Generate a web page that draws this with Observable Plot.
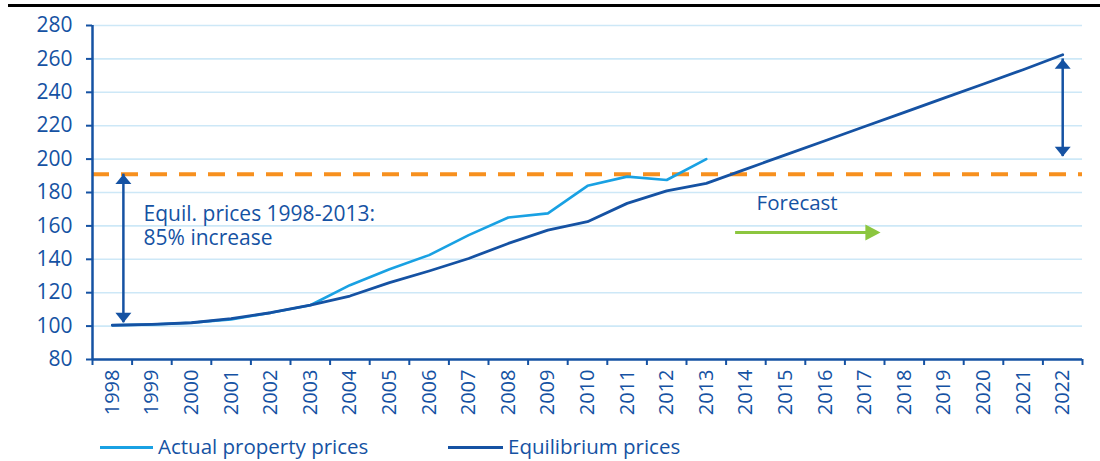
<!DOCTYPE html>
<html><head><meta charset="utf-8">
<script src="https://cdn.jsdelivr.net/npm/d3@7"></script>
<script src="https://cdn.jsdelivr.net/npm/@observablehq/plot@0.6"></script>
<style>
body{margin:0;background:#fff;font-family:"Open Sans",sans-serif;width:1100px;height:461px;overflow:hidden;}
#topbar{height:4px;margin-left:8px;border-bottom:3px solid #000;}
#chart svg{display:block;}
#legend{position:relative;height:36px;color:#1552a3;font-size:20.5px;}
#legend .sw{position:absolute;top:21px;height:3px;}
#legend .lb{position:absolute;top:6px;line-height:30px;white-space:nowrap;}
</style></head><body>
<div id="topbar"></div>
<div id="chart"></div>
<div id="legend"></div>
<script>
// ---- data ----
const years = [1998,1999,2000,2001,2002,2003,2004,2005,2006,2007,2008,2009,2010,2011,2012,2013,2014,2015,2016,2017,2018,2019,2020,2021,2022];
const actualPrices = [100.5,101,102,104,108,112.5,124.5,134,142.5,154.5,165,167.5,184,189.5,187.5,200];
const equilibriumPrices = [100.5,101,102,104.5,108,112.5,118,126,133,140.5,149.5,157.5,162.5,173.5,181,185.5,194,202.5,211,219.5,228,236.5,245,253.5,262.5];
const yTicks = [80,100,120,140,160,180,200,220,240,260,280];
const gridTicks = [100,120,140,160,180,200,220,240,260,280];
const referenceLevel = [191];
const verticalArrows = [{x:1998.28, low:102, high:191},{x:2022, low:201.5, high:260}];
const forecastArrow = [{y:156, from:2013.74, to:2017.4}];
const notes = [
  {x:1998.79, y:160.3, text:"Equil. prices 1998-2013:\n85% increase", size:21},
  {x:2014.27, y:173.4, text:"Forecast", size:20.5}
];
const seriesNames = ["Actual property prices","Equilibrium prices"];

// ---- colours ----
const blue = "#1552a3", light = "#19a1e3", orange = "#f7901e", green = "#8cc63f", grid = "#cde8f7";

const actualTable = actualPrices.map((v,i)=>({year:years[i], value:v}));
const equilTable = equilibriumPrices.map((v,i)=>({year:years[i], value:v}));
const boundaries = years.map(y=>y-0.5).concat([years[years.length-1]+0.5]);

function head(dir, ratio){
  return {draw(ctx, size){
    const w = Math.sqrt(size), h = w*ratio;
    ctx.moveTo(0,0);
    if(dir==="up"){ctx.lineTo(w/2,h);ctx.lineTo(-w/2,h);}
    else if(dir==="down"){ctx.lineTo(w/2,-h);ctx.lineTo(-w/2,-h);}
    else {ctx.lineTo(-h,w/2);ctx.lineTo(-h,-w/2);}
    ctx.closePath();
  }};
}

const chart = Plot.plot({
  width:1100, height:418,
  marginLeft:92, marginRight:18, marginTop:18, marginBottom:66,
  x:{domain:[boundaries[0], boundaries[boundaries.length-1]]},
  y:{domain:[80,280]},
  style:{fontFamily:"Open Sans", color:blue, background:"#fff", overflow:"visible"},
  marks:[
    Plot.gridY(gridTicks,{stroke:grid, strokeOpacity:1, strokeWidth:1.6}),
    Plot.ruleY(referenceLevel,{stroke:orange, strokeWidth:4, strokeDasharray:"17,12"}),
    Plot.line(actualTable,{x:"year", y:"value", stroke:light, strokeWidth:2.6}),
    Plot.line(equilTable,{x:"year", y:"value", stroke:blue, strokeWidth:2.8}),
    Plot.ruleX(verticalArrows,{x:"x", y1:"low", y2:"high", stroke:blue, strokeWidth:2.5}),
    Plot.dot(verticalArrows,{x:"x", y:"high", symbol:head("up",0.62), r:9, fill:blue, stroke:null}),
    Plot.dot(verticalArrows,{x:"x", y:"low", symbol:head("down",0.62), r:9, fill:blue, stroke:null}),
    Plot.ruleY(forecastArrow,{y:"y", x1:"from", x2:"to", stroke:green, strokeWidth:3, insetRight:6}),
    Plot.dot(forecastArrow,{x:"to", y:"y", symbol:head("right",0.95), r:9, fill:green, stroke:null}),
    Plot.text(notes.slice(0,1),{x:"x", y:"y", text:"text", textAnchor:"start", lineAnchor:"middle", fontSize:notes[0].size, lineHeight:1.16, fill:blue}),
    Plot.text(notes.slice(1),{x:"x", y:"y", text:"text", textAnchor:"start", lineAnchor:"middle", fontSize:notes[1].size, fill:blue}),
    Plot.ruleX([boundaries[0]],{stroke:blue, strokeWidth:2.5}),
    Plot.ruleY([80],{stroke:blue, strokeWidth:2.5}),
    Plot.axisY(yTicks,{tickSize:6, tickPadding:14, fontSize:21, stroke:blue, fill:blue, strokeWidth:2, label:null}),
    Plot.axisX(boundaries,{tickSize:6, tickFormat:()=>"", stroke:blue, strokeWidth:2, label:null}),
    Plot.axisX(years,{tickSize:0, tickPadding:10, tickRotate:-90, tickFormat:d=>String(d), fontSize:20, fill:blue, label:null})
  ]
});
document.getElementById("chart").append(chart);

const legend = document.getElementById("legend");
const items = [
  {name:seriesNames[0], color:light, sw:100, sww:53, tx:158},
  {name:seriesNames[1], color:blue, sw:448, sww:55, tx:508}
];
items.forEach(it=>{
  const s = document.createElement("div");
  s.className="sw"; s.style.left=it.sw+"px"; s.style.width=it.sww+"px"; s.style.background=it.color;
  const t = document.createElement("div");
  t.className="lb"; t.style.left=it.tx+"px"; t.textContent=it.name;
  legend.append(s,t);
});
</script>
</body></html>
